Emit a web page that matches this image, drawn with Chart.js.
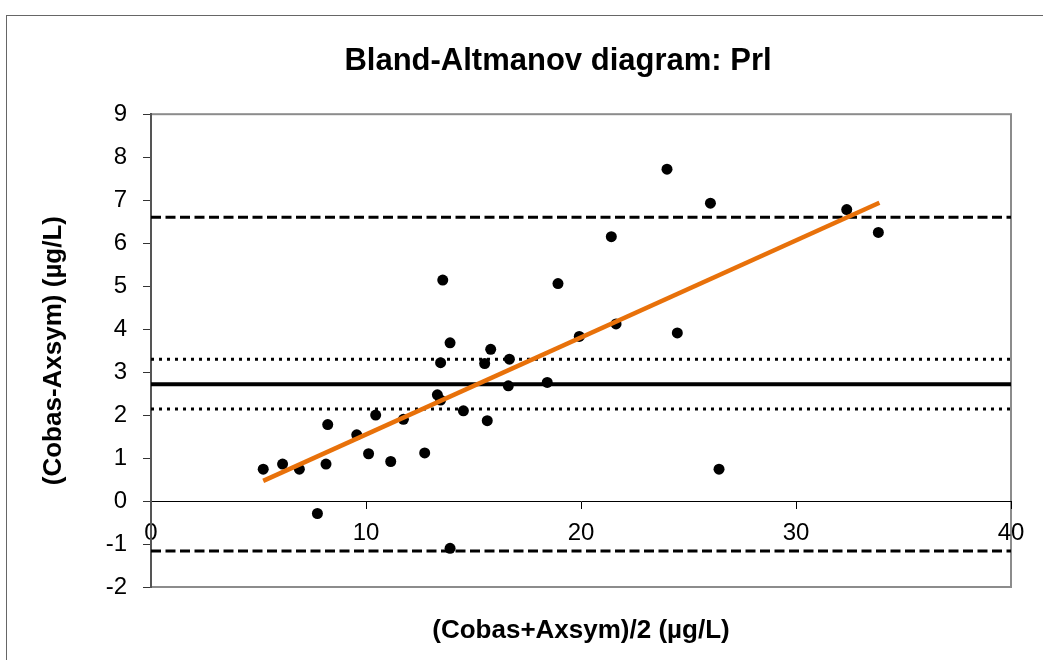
<!DOCTYPE html>
<html>
<head>
<meta charset="utf-8">
<script src="https://cdn.jsdelivr.net/npm/chart.js@4.4.0/dist/chart.umd.min.js"></script>
<style>
  html, body { margin: 0; padding: 0; background: #fff; overflow: hidden; }
  #frame { position: absolute; left: 6px; top: 15px; width: 1102px; height: 644px;
           border-left: 1px solid #666; border-top: 1px solid #666; }
  #chart { display: block; }
</style>
</head>
<body>
<div id="frame"><canvas id="chart" width="1102" height="644"></canvas></div>
<script>
// (Cobas+Axsym)/2 and Cobas-Axsym
const avgValues = [5.22, 6.12, 6.90, 7.74, 8.14, 8.22, 9.57, 10.12, 10.45, 11.15, 11.74, 12.73,
  13.32, 13.47, 13.47, 13.57, 13.91, 13.91, 14.53, 15.52, 15.64, 15.80, 16.62, 16.67,
  18.43, 18.93, 19.92, 21.41, 21.63, 24.00, 24.48, 26.02, 26.42, 32.36, 33.83]
const diffValues = [0.74, 0.86, 0.74, -0.29, 0.86, 1.78, 1.54, 1.10, 2.00, 0.92, 1.90, 1.12,
  2.47, 2.35, 3.22, 5.14, 3.68, -1.10, 2.10, 3.20, 1.87, 3.53, 2.68, 3.30,
  2.76, 5.06, 3.83, 6.15, 4.12, 7.72, 3.91, 6.93, 0.74, 6.78, 6.25]

// trend line ends
const trendX = [5.22, 33.88]
const trendY = [0.47, 6.94]

const meanDiff = 2.72
const ciLimits = [3.30, 2.14]      // dotted
const agreeLimits = [6.60, -1.16]  // dashed

const xTicks = [0, 10, 20, 30, 40]
const yTicks = [-2, -1, 0, 1, 2, 3, 4, 5, 6, 7, 8, 9]

const orange = '#E8710A'
const font = "'Liberation Sans', Arial, sans-serif"

const hline = (v) => [{x: xTicks[0], y: v}, {x: xTicks[xTicks.length - 1], y: v}]

const lineSet = (v, width, dash) => ({
  type: 'line',
  data: hline(v),
  borderColor: '#000',
  borderWidth: width,
  borderDash: dash,
  pointRadius: 0,
  fill: false
})

// grey frame around the plot area
const plotFrame = {
  id: 'plotFrame',
  beforeDraw (chart) {
    const {ctx, chartArea: a} = chart
    ctx.save()
    ctx.strokeStyle = '#8c8c8c'
    ctx.lineWidth = 2
    ctx.strokeRect(a.left, a.top, a.right - a.left, a.bottom - a.top)
    ctx.restore()
  }
}

Chart.defaults.font.family = font
Chart.defaults.color = '#000'

new Chart(document.getElementById('chart').getContext('2d'), {
  type: 'scatter',
  data: {
    datasets: [
      {
        type: 'line',
        data: trendX.map((x, i) => ({x: x, y: trendY[i]})),
        borderColor: orange,
        borderWidth: 4.5,
        pointRadius: 0,
        fill: false
      },
      {
        data: avgValues.map((x, i) => ({x: x, y: diffValues[i]})),
        backgroundColor: '#000',
        borderWidth: 0,
        pointRadius: 5.5
      },
      lineSet(meanDiff, 4, []),
      lineSet(ciLimits[0], 3, [3, 5]),
      lineSet(ciLimits[1], 3, [3, 5]),
      lineSet(agreeLimits[0], 3, [10, 4.5]),
      lineSet(agreeLimits[1], 3, [10, 4.5])
    ]
  },
  options: {
    responsive: false,
    animation: false,
    layout: { padding: 0 },
    plugins: {
      legend: { display: false },
      tooltip: { enabled: false },
      title: {
        display: true,
        text: 'Bland-Altmanov diagram: Prl',
        font: { size: 31, weight: 'bold' },
        color: '#000',
        padding: { top: 27, bottom: 34 }
      }
    },
    scales: {
      x: {
        type: 'linear',
        position: { y: 0 },
        min: 0,
        max: 40,
        afterBuildTicks: (s) => { s.ticks = xTicks.map(v => ({value: v})) },
        ticks: { font: { size: 24 }, color: '#000', padding: 11 },
        grid: { drawOnChartArea: false, drawTicks: true, tickLength: 7, color: '#000' },
        border: { display: true, color: '#000', width: 1 }
      },
      xb: {
        type: 'linear',
        position: 'bottom',
        min: 0,
        max: 40,
        afterFit: (s) => { s.height = 73 },
        ticks: { display: false },
        grid: { display: false, drawTicks: false },
        border: { display: false },
        title: {
          display: true,
          text: '(Cobas+Axsym)/2 (µg/L)',
          font: { size: 26, weight: 'bold' },
          color: '#000',
          padding: { top: 0, bottom: 14 }
        }
      },
      y: {
        type: 'linear',
        position: 'left',
        min: -2,
        max: 9,
        afterFit: (s) => { s.width = 144 },
        afterBuildTicks: (s) => { s.ticks = yTicks.map(v => ({value: v})) },
        ticks: { font: { size: 24 }, color: '#000', padding: 16 },
        grid: { drawOnChartArea: false, drawTicks: true, tickLength: 8, color: '#333' },
        border: { display: true, color: '#555', width: 2 },
        title: {
          display: true,
          text: '(Cobas-Axsym) (µg/L)',
          font: { size: 26, weight: 'bold' },
          color: '#000',
          padding: { top: 31, bottom: 0 }
        }
      },
      yr: {
        type: 'linear',
        position: 'right',
        afterFit: (s) => { s.width = 98 },
        ticks: { display: false },
        grid: { display: false, drawTicks: false },
        border: { display: false }
      }
    }
  },
  plugins: [plotFrame]
})
</script>
</body>
</html>
